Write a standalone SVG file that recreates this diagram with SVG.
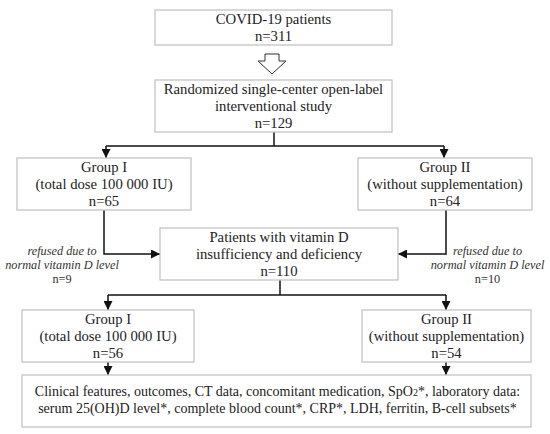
<svg xmlns="http://www.w3.org/2000/svg" width="550" height="434" viewBox="0 0 550 434">
<style>
.box{fill:#fff;stroke:#c4c4c4;stroke-width:1.3}
.t{font-family:"Liberation Serif","Times New Roman",serif;font-size:14.7px;fill:#222;text-anchor:middle}
.s{font-size:14px}
.n{font-family:"Liberation Serif","Times New Roman",serif;font-size:12.3px;fill:#333;text-anchor:middle}
.i{font-style:italic}
.c{fill:none;stroke:#111;stroke-width:1.5}
</style>
<defs>
<marker id="ah" viewBox="0 0 10 10" refX="10" refY="5" markerWidth="9" markerHeight="9" markerUnits="userSpaceOnUse" orient="auto">
<path d="M0,0 L10,5 L0,10 z" fill="#111"/>
</marker>
</defs>
<rect width="550" height="434" fill="#fff"/>
<g id="connectors">
<polygon points="265,54 279,54 279,61 286,61 272,74 258,61 265,61" fill="#fff" stroke="#333" stroke-width="1"/>
<path class="c" d="M274,132 V146"/>
<path class="c" d="M106,146 H444"/>
<path class="c" d="M106,146 V158" marker-end="url(#ah)"/>
<path class="c" d="M444,146 V158" marker-end="url(#ah)"/>
<path class="c" d="M104,210 V254 H160" marker-end="url(#ah)"/>
<path class="c" d="M446,210 V254 H398" marker-end="url(#ah)"/>
<path class="c" d="M280,280 V295"/>
<path class="c" d="M108,295 H446"/>
<path class="c" d="M108,295 V310" marker-end="url(#ah)"/>
<path class="c" d="M446,295 V310" marker-end="url(#ah)"/>
<path class="c" d="M108,362 V375" marker-end="url(#ah)"/>
<path class="c" d="M446,362 V375" marker-end="url(#ah)"/>
</g>
<g id="covid">
<rect class="box" x="155" y="10" width="237" height="35"/>
<text class="t" x="273.5" y="24">COVID-19 patients</text>
<text class="t" x="273.5" y="41">n=311</text>
</g>
<g id="randomized">
<rect class="box" x="155" y="80" width="237" height="52"/>
<text class="t" x="273.5" y="94">Randomized single-center open-label</text>
<text class="t" x="273.5" y="111">interventional study</text>
<text class="t" x="273.5" y="128">n=129</text>
</g>
<g id="group1a">
<rect class="box" x="17" y="158" width="174" height="52"/>
<text class="t" x="104" y="172">Group I</text>
<text class="t" x="104" y="189">(total dose 100 000 IU)</text>
<text class="t" x="104" y="206">n=65</text>
</g>
<g id="group2a">
<rect class="box" x="358" y="158" width="174" height="52"/>
<text class="t" x="445" y="172">Group II</text>
<text class="t" x="445" y="189">(without supplementation)</text>
<text class="t" x="445" y="206">n=64</text>
</g>
<g id="refused1">
<text class="n i" x="62" y="255">refused due to</text>
<text class="n i" x="62" y="269">normal vitamin D level</text>
<text class="n" x="62" y="283">n=9</text>
</g>
<g id="refused2">
<text class="n i" x="487.5" y="255">refused due to</text>
<text class="n i" x="487.5" y="269">normal vitamin D level</text>
<text class="n" x="487.5" y="283">n=10</text>
</g>
<g id="vitd">
<rect class="box" x="160" y="228" width="238" height="52"/>
<text class="t" x="279" y="242">Patients with vitamin D</text>
<text class="t" x="279" y="259">insufficiency and deficiency</text>
<text class="t" x="279" y="276">n=110</text>
</g>
<g id="group1b">
<rect class="box" x="22" y="310" width="172" height="52"/>
<text class="t" x="108" y="324">Group I</text>
<text class="t" x="108" y="341">(total dose 100 000 IU)</text>
<text class="t" x="108" y="358">n=56</text>
</g>
<g id="group2b">
<rect class="box" x="362" y="310" width="169" height="52"/>
<text class="t" x="446.5" y="324">Group II</text>
<text class="t" x="446.5" y="341">(without supplementation)</text>
<text class="t" x="446.5" y="358">n=54</text>
</g>
<g id="outcomes">
<rect class="box" x="22" y="375" width="509" height="52"/>
<text class="t s" x="277.5" y="396">Clinical features, outcomes, CT data, concomitant medication, SpO<tspan font-size="10">2</tspan>*, laboratory data:</text>
<text class="t s" x="277.5" y="413">serum 25(OH)D level*, complete blood count*, CRP*, LDH, ferritin, B-cell subsets*</text>
</g>
</svg>
